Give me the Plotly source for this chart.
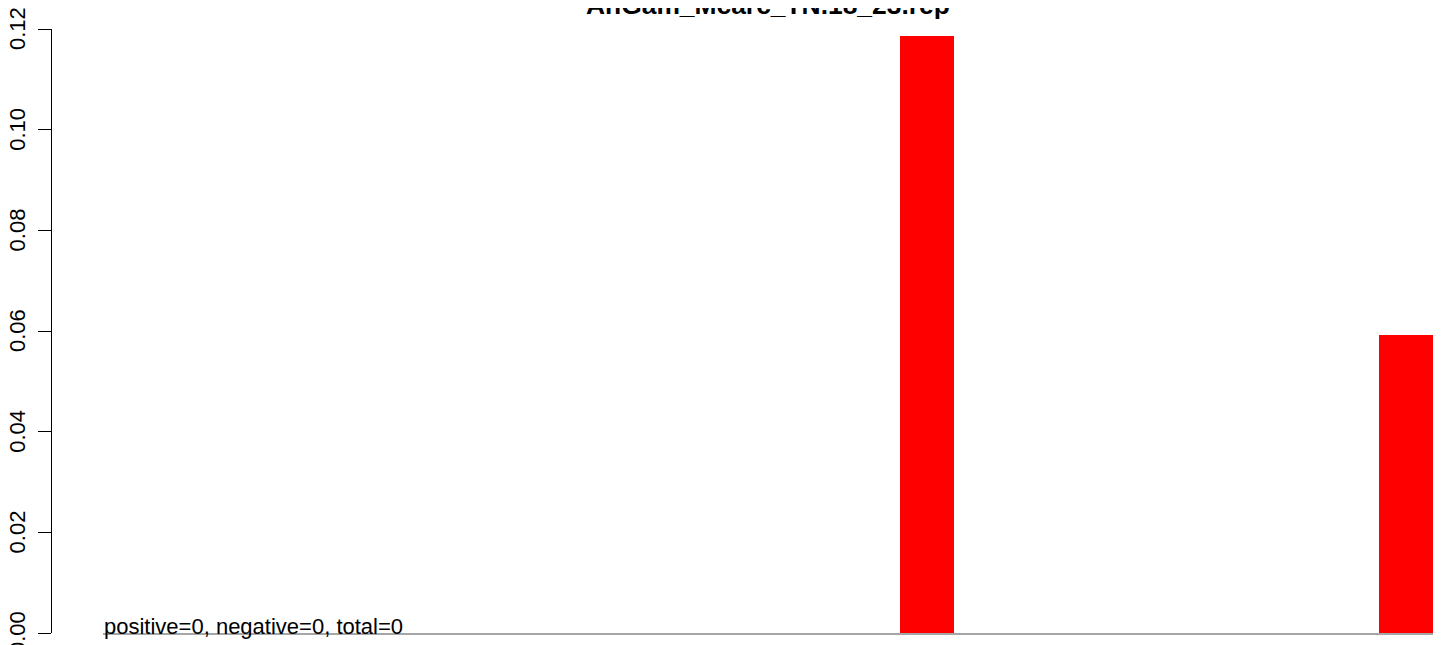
import plotly.graph_objects as go

title_text = "AnGam_Mcarc_TN.18_23.rep"
note_text = "positive=0, negative=0, total=0"

bins = list(range(22))
values = [0, 0, 0, 0, 0, 0, 0, 0, 0, 0, 0, 0, 0, 0.1186,
          0, 0, 0, 0, 0, 0, 0, 0.0593]
y_ticks = [0.00, 0.02, 0.04, 0.06, 0.08, 0.10, 0.12]

W, H = 1444, 645
off = 8  # page body margin
ml, mr, mt, mb = 51 - off, 11 + off, 29 - off, 12 + off
plot_left_px = 103 - off
dom0 = (plot_left_px - ml) / (W - ml - mr)

font_family = "Liberation Sans, Arial, sans-serif"
fs = 22

fig = go.Figure()
fig.add_trace(go.Bar(x=bins, y=values, width=0.9, marker=dict(color="#ff0000", line=dict(width=0)),
                     showlegend=False, hoverinfo="skip"))

fig.update_layout(
    width=W, height=H,
    margin=dict(l=ml, r=mr, t=mt, b=mb, pad=0, autoexpand=False),
    plot_bgcolor="white", paper_bgcolor="white",
    font=dict(family=font_family, size=fs, color="black"),
    bargap=0,
    xaxis=dict(domain=[dom0, 1], range=[-0.75, 21.45], showgrid=False, zeroline=False, automargin=False,
               showticklabels=False, ticks="", showline=True, linecolor="#a6a6a6", linewidth=2),
    yaxis=dict(anchor="free", position=0, range=[0, 0.12], tickvals=y_ticks, tickformat=".2f",
               automargin=False,
               showgrid=False, zeroline=False, showline=True, linecolor="black", linewidth=1.3,
               ticks="outside", ticklen=13, tickwidth=1.3, tickcolor="black", tickangle=-90,
               ticklabelstandoff=4, ticklabelshift=3,
               ticklabeloverflow="allow", tickfont=dict(size=fs, family=font_family)),
)

fig.add_annotation(text=f"<b>{title_text}</b>", xref="x domain", yref="y domain", x=0.5, y=1,
                   xanchor="center", yanchor="bottom", yshift=7, showarrow=False,
                   font=dict(size=26.4, family=font_family, color="black"))
fig.add_annotation(text=note_text, xref="x domain", yref="y", x=0, y=0,
                   xanchor="left", yanchor="bottom", yshift=-8, xshift=-1, showarrow=False,
                   font=dict(size=fs, family=font_family, color="black"))

fig.write_html("out.html")
